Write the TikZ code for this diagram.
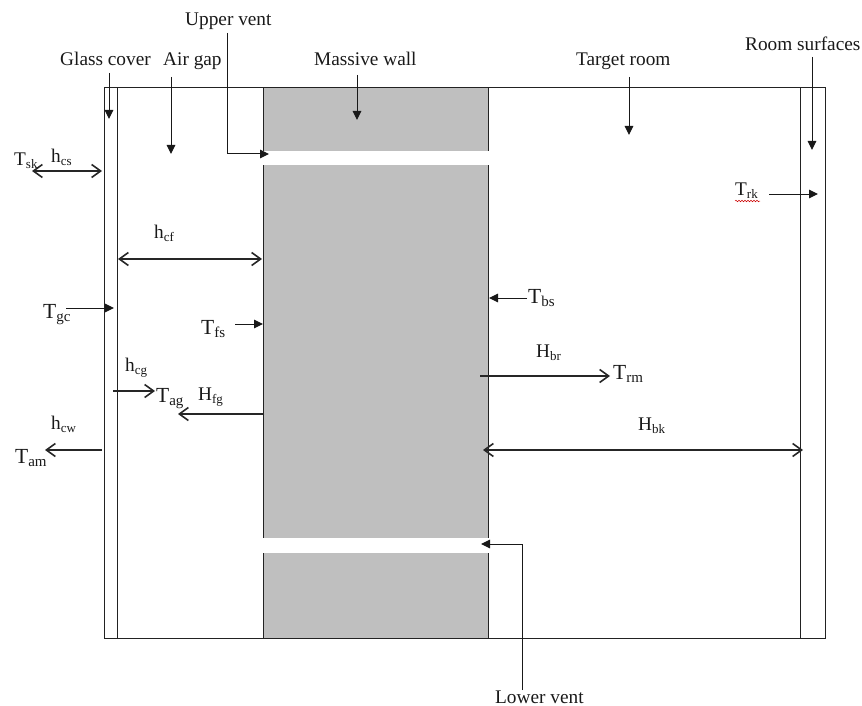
\documentclass[tikz,border=0pt]{standalone}
\usepackage{xcolor}
\usepackage{fontspec}
\setmainfont{Liberation Serif}
\usepackage{tikz}
\usetikzlibrary{arrows.meta,decorations.pathmorphing}
\definecolor{wallfill}{HTML}{BFBFBF}
\definecolor{inkline}{HTML}{222222}
\newcommand{\lowtext}[2][13]{\raisebox{-3.5pt}{\fontsize{#1}{#1}\selectfont #2}}

\begin{document}
\begin{tikzpicture}[
  x=1pt, y=-1pt,
  frameline/.style={draw=inkline, line width=1pt},
  lbl/.style={anchor=base west, inner sep=0pt, font=\fontsize{19.3}{22}\selectfont, text=black!90},
  biglbl/.style={lbl, font=\fontsize{21.5}{24}\selectfont},
  arr/.style={-{Triangle[length=9pt,width=8.5pt]}, line width=1pt, black!90},
  flow/.style={-{Straight Barb[length=9pt,width=13pt,line width=1.6pt]}, line width=2.2pt, black!85},
  flowboth/.style={{Straight Barb[length=9pt,width=13pt,line width=1.6pt]}-{Straight Barb[length=9pt,width=13pt,line width=1.6pt]}, line width=2.2pt, black!85}
]
  \useasboundingbox (0,0) rectangle (862,706);

  % wall and vents
  \fill[wallfill] (263.5,88) rectangle (488.5,638);
  \draw[frameline] (104.5,88) rectangle (825.5,638);
  \draw[frameline] (117.5,88) -- (117.5,638);
  \draw[frameline] (263.5,88) -- (263.5,638);
  \draw[frameline] (488.5,88) -- (488.5,638);
  \draw[frameline] (800.5,88) -- (800.5,638);
  \fill[white] (262.5,151) rectangle (489.5,165);
  \fill[white] (262.5,538) rectangle (489.5,553);

  % labels
  \node[lbl] (upper) at (185,26) {Upper vent};
  \node[lbl] (glass) at (60,66) {Glass cover};
  \node[lbl] (airgap) at (163,66) {Air gap};
  \node[lbl] (wall) at (314,66) {Massive wall};
  \node[lbl] (room) at (576,66) {Target room};
  \node[lbl] (surf) at (745,51) {Room surfaces};
  \node[lbl] (lower) at (495,703) {Lower vent};

  \node[lbl] (tsk) at (14,165) {T\lowtext{sk}};
  \node[lbl] (hcs) at (51,162) {h\lowtext{cs}};
  \node[lbl] (hcf) at (154,238) {h\lowtext{cf}};
  \node[biglbl] (tgc) at (43,318) {T\lowtext[15]{gc}};
  \node[biglbl] (tfs) at (201,334) {T\lowtext[15]{fs}};
  \node[lbl] (hcg) at (125,371) {h\lowtext{cg}};
  \node[biglbl] (tag) at (156,402) {T\lowtext[15]{ag}};
  \node[lbl] (hfg) at (198,400) {H\lowtext{fg}};
  \node[lbl] (hcw) at (51,429) {h\lowtext{cw}};
  \node[biglbl] (tam) at (15,463) {T\lowtext[15]{am}};
  \node[biglbl] (tbs) at (528,303) {T\lowtext[15]{bs}};
  \node[lbl] (hbr) at (536,357) {H\lowtext{br}};
  \node[biglbl] (trm) at (613,379) {T\lowtext[15]{rm}};
  \node[lbl] (hbk) at (638,430) {H\lowtext{bk}};
  \node[lbl] (trk) at (735,195) {T\lowtext{rk}};

  % arrow ends
  \coordinate (glassA) at (109,73);
  \coordinate (glassB) at (109,119);
  \coordinate (airA) at (171,77);
  \coordinate (airB) at (171,154);
  \coordinate (upperA) at (227,33);
  \coordinate (upperB) at (227,154);
  \coordinate (upperC) at (269,154);
  \coordinate (wallA) at (357,75);
  \coordinate (wallB) at (357,120);
  \coordinate (roomA) at (629,77);
  \coordinate (roomB) at (629,135);
  \coordinate (surfA) at (812,57);
  \coordinate (surfB) at (812,150);
  \coordinate (trkA) at (769,194);
  \coordinate (trkB) at (818,194);
  \coordinate (tskA) at (32,171);
  \coordinate (tskB) at (102,171);
  \coordinate (hcfA) at (118,259);
  \coordinate (hcfB) at (262,259);
  \coordinate (tgcA) at (66,308);
  \coordinate (tgcB) at (114,308);
  \coordinate (tfsA) at (235,324);
  \coordinate (tfsB) at (263,324);
  \coordinate (hcgA) at (113,391);
  \coordinate (hcgB) at (155,391);
  \coordinate (hfgA) at (264,414);
  \coordinate (hfgB) at (178,414);
  \coordinate (tamA) at (102,450);
  \coordinate (tamB) at (45,450);
  \coordinate (tbsA) at (527,298);
  \coordinate (tbsB) at (489,298);
  \coordinate (hbrA) at (480,376);
  \coordinate (hbrB) at (610,376);
  \coordinate (hbkA) at (483,450);
  \coordinate (hbkB) at (803,450);
  \coordinate (lowerA) at (522,690);
  \coordinate (lowerB) at (522,544);
  \coordinate (lowerC) at (481,544);
  \coordinate (trkC) at (735,201);
  \coordinate (trkD) at (760,201);

  \draw[arr] (glassA) -- (glassB);
  \draw[arr] (airA) -- (airB);
  \draw[arr] (upperA) -- (upperB) -- (upperC);
  \draw[arr] (wallA) -- (wallB);
  \draw[arr] (roomA) -- (roomB);
  \draw[arr] (surfA) -- (surfB);
  \draw[arr] (trkA) -- (trkB);
  \draw[flowboth] (tskA) -- (tskB);
  \draw[flowboth] (hcfA) -- (hcfB);
  \draw[arr] (tgcA) -- (tgcB);
  \draw[arr] (tfsA) -- (tfsB);
  \draw[flow] (hcgA) -- (hcgB);
  \draw[flow] (hfgA) -- (hfgB);
  \draw[flow] (tamA) -- (tamB);
  \draw[arr] (tbsA) -- (tbsB);
  \draw[flow] (hbrA) -- (hbrB);
  \draw[flowboth] (hbkA) -- (hbkB);
  \draw[arr] (lowerA) -- (lowerB) -- (lowerC);
  \draw[red!80!black, line width=0.5pt, decorate, decoration={snake, amplitude=0.8pt, segment length=3pt}] (trkC) -- (trkD);
\end{tikzpicture}
\end{document}
